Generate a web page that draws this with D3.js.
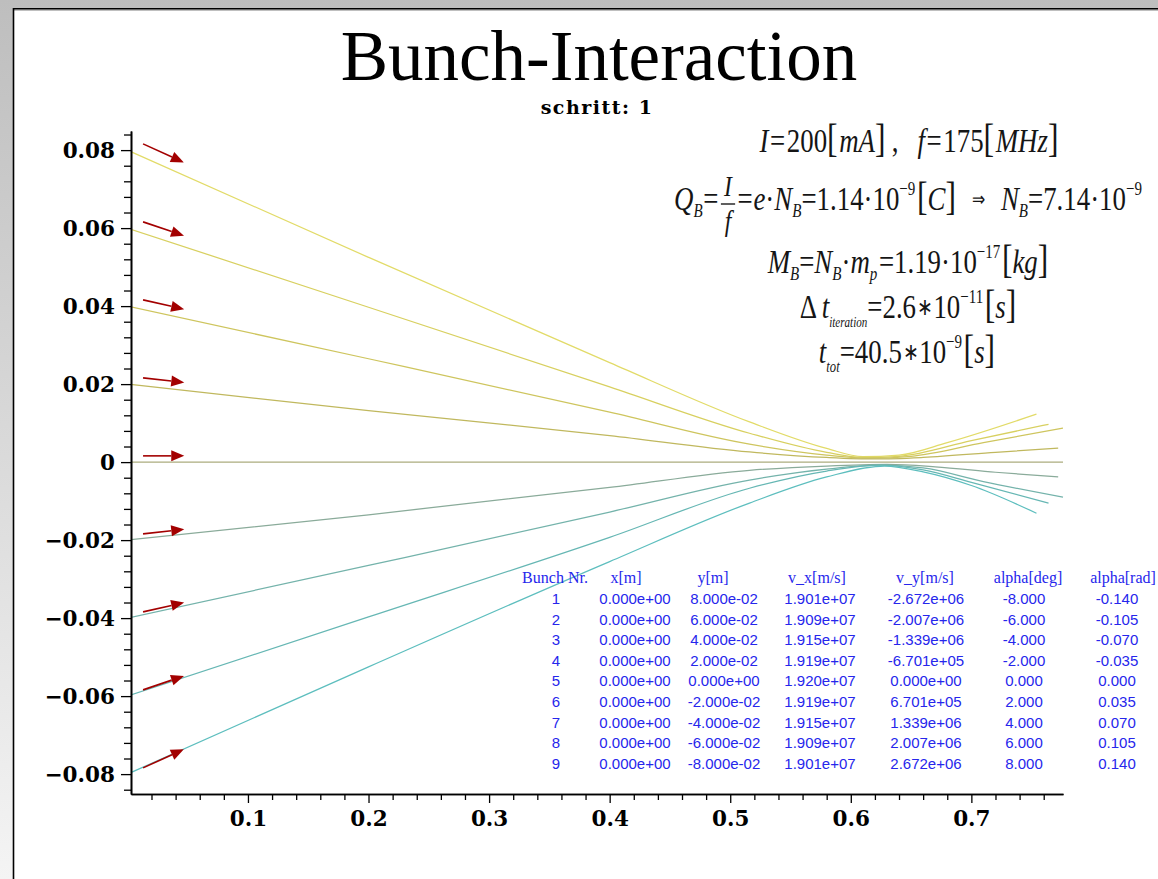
<!DOCTYPE html>
<html>
<head>
<meta charset="utf-8">
<script src="https://cdn.jsdelivr.net/npm/d3@7"></script>
<style>
  html, body { margin: 0; padding: 0; overflow: hidden; background: #fff; }
  svg { display: block; }
</style>
</head>
<body>
<svg id="chart" width="1158" height="879"></svg>
<script>
// ---- Initial state of the nine bunches ----
const bunchNr  = [1, 2, 3, 4, 5, 6, 7, 8, 9];
const xStart   = [0, 0, 0, 0, 0, 0, 0, 0, 0];
const yStart   = [0.08, 0.06, 0.04, 0.02, 0, -0.02, -0.04, -0.06, -0.08];
const vX       = [1.901e7, 1.909e7, 1.915e7, 1.919e7, 1.920e7, 1.919e7, 1.915e7, 1.909e7, 1.901e7];
const vY       = [-2.672e6, -2.007e6, -1.339e6, -6.701e5, 0, 6.701e5, 1.339e6, 2.007e6, 2.672e6];
const alphaDeg = [-8, -6, -4, -2, 0, 2, 4, 6, 8];
const alphaRad = [-0.140, -0.105, -0.070, -0.035, 0.000, 0.035, 0.070, 0.105, 0.140];

// ---- Trajectories [x, y] in metres ----
const track1 = [[0, 0.08], [0.2, 0.0525], [0.4, 0.0255], [0.516, 0.0103], [0.58, 0.0035], [0.61, 0.0014], [0.64, 0.0018], [0.68, 0.0050], [0.754, 0.0123]];
const track2 = [[0, 0.06], [0.2, 0.0397], [0.4, 0.0193], [0.516, 0.0074], [0.58, 0.0025], [0.61, 0.0012], [0.64, 0.0015], [0.70, 0.0055], [0.764, 0.0097]];
const track3 = [[0, 0.04], [0.2, 0.0265], [0.4, 0.0128], [0.516, 0.0046], [0.58, 0.0018], [0.615, 0.0010], [0.65, 0.0015], [0.71, 0.0050], [0.776, 0.0087]];
const track4 = [[0, 0.02], [0.2, 0.0132], [0.4, 0.0068], [0.516, 0.0026], [0.58, 0.0012], [0.62, 0.0008], [0.66, 0.0012], [0.72, 0.0025], [0.772, 0.0036]];
const track5 = [[0, 0], [0.776, 0]];
const track6 = [[0, -0.02], [0.2, -0.0135], [0.4, -0.0065], [0.516, -0.0021], [0.58, -0.0010], [0.63, -0.0006], [0.67, -0.0012], [0.72, -0.0026], [0.772, -0.0038]];
const track7 = [[0, -0.04], [0.2, -0.0265], [0.4, -0.0128], [0.516, -0.0046], [0.58, -0.0018], [0.625, -0.0008], [0.66, -0.0015], [0.71, -0.0050], [0.776, -0.0090]];
const track8 = [[0, -0.06], [0.2, -0.0397], [0.4, -0.0193], [0.516, -0.0067], [0.58, -0.0023], [0.625, -0.0008], [0.66, -0.0020], [0.70, -0.0052], [0.764, -0.0105]];
const track9 = [[0, -0.08], [0.2, -0.0525], [0.4, -0.0255], [0.516, -0.0105], [0.58, -0.0038], [0.628, -0.0010], [0.66, -0.0025], [0.70, -0.0060], [0.754, -0.0131]];
const tracks = [track1, track2, track3, track4, track5, track6, track7, track8, track9];

// ---- Axis ticks ----
const xMajorTicks = [0.1, 0.2, 0.3, 0.4, 0.5, 0.6, 0.7];
const yMajorTicks = [-0.08, -0.06, -0.04, -0.02, 0, 0.02, 0.04, 0.06, 0.08];

// ---- Texts ----
const titleText = "Bunch-Interaction";
const stepText = "schritt: 1";
const tableHeader = ["Bunch Nr.", "x[m]", "y[m]", "v_x[m/s]", "v_y[m/s]", "alpha[deg]", "alpha[rad]"];

// ---- Styles ----
const SERIF = "'Liberation Serif', 'Times New Roman', serif";
const WIDE_SERIF = "'DejaVu Serif', serif";
const SANS = "'Liberation Sans', Arial, sans-serif";
const lineColors = ["#e2db68", "#d8d060", "#cec55e", "#c0b85e", "#abac7e", "#8aab9a", "#74b3ab", "#66b7b4", "#5dbebe"];
const arrowColor = "#a30000";
const arrowTime = 1.78e-9;       // seconds of flight represented by an arrow
const arrowLift = 0.0016;         // arrows sit slightly above their track
const arrowX0 = 0.013;

const W = 1158, H = 879;
const svg = d3.select("#chart");

// Window frame
const defs = svg.append("defs");
const bg = defs.append("linearGradient").attr("id", "bgGrad").attr("x1", 0).attr("y1", 0).attr("x2", 0).attr("y2", 1);
bg.append("stop").attr("offset", "0%").attr("stop-color", "#bebebe");
bg.append("stop").attr("offset", "100%").attr("stop-color", "#f4f4f4");
svg.append("rect").attr("width", W).attr("height", H).attr("fill", "url(#bgGrad)");
svg.append("rect").attr("x", 14).attr("y", 10).attr("width", W - 14).attr("height", H - 10).attr("fill", "#fff");
svg.append("line").attr("x1", 13).attr("x2", W).attr("y1", 8.75).attr("y2", 8.75).attr("stroke", "#000").attr("stroke-width", 1.6);
svg.append("line").attr("x1", 14).attr("x2", W).attr("y1", 10.2).attr("y2", 10.2).attr("stroke", "#8a8a8a").attr("stroke-width", 0.8);
svg.append("line").attr("x1", 13.5).attr("x2", 13.5).attr("y1", 8).attr("y2", H).attr("stroke", "#000").attr("stroke-width", 1.6);

// Scales
const x = d3.scaleLinear().domain([0.003, 0.776]).range([131, 1063]);
const y = d3.scaleLinear().domain([-0.0851, 0.0849]).range([794, 131]);

// Title
svg.append("text").attr("x", 599).attr("y", 80).attr("text-anchor", "middle")
  .attr("font-family", SERIF).attr("font-size", 71).attr("fill", "#000").text(titleText);
svg.append("text").attr("x", 597).attr("y", 114).attr("text-anchor", "middle")
  .attr("font-family", WIDE_SERIF).attr("font-weight", "bold").attr("font-size", 19)
  .attr("letter-spacing", 1.5).attr("fill", "#000").text(stepText);

// Trajectories
defs.append("clipPath").attr("id", "plotClip").append("rect")
  .attr("x", 131).attr("y", 120).attr("width", 940).attr("height", 674);
const line = d3.line().x(d => x(d[0])).y(d => y(d[1])).curve(d3.curveMonotoneX);
svg.append("g").attr("clip-path", "url(#plotClip)")
  .selectAll("path").data(tracks).join("path")
  .attr("d", line).attr("fill", "none")
  .attr("stroke", (d, i) => lineColors[i]).attr("stroke-width", 1.25);

// Axes
const tickFont = g => g.selectAll("text")
  .attr("font-family", WIDE_SERIF).attr("font-weight", "bold").attr("font-size", 21.5)
  .attr("fill", "#000");
const axisStyle = g => {
  g.select(".domain").attr("stroke", "#000").attr("stroke-width", 1.6);
  g.selectAll(".tick line").attr("stroke", "#000").attr("stroke-width", 1.3);
};

const xMinor = d3.range(1, 39).map(i => +(i * 0.02).toFixed(2)).filter(v => !xMajorTicks.some(m => Math.abs(m - v) < 1e-9));
const yMinor = d3.range(-21, 22).map(i => +(i * 0.004).toFixed(3)).filter(v => !yMajorTicks.some(m => Math.abs(m - v) < 1e-9));

svg.append("g").attr("transform", "translate(0,794)")
  .call(d3.axisBottom(x).tickValues(xMinor).tickSize(6).tickSizeOuter(0).tickFormat(""))
  .call(axisStyle);
svg.append("g").attr("transform", "translate(0,794)")
  .call(d3.axisBottom(x).tickValues(xMajorTicks).tickSize(9).tickSizeOuter(0).tickPadding(8).tickFormat(d3.format(".1f")))
  .call(axisStyle).call(tickFont);

svg.append("g").attr("transform", "translate(131,0)")
  .call(d3.axisLeft(y).tickValues(yMinor).tickSize(7).tickSizeOuter(0).tickFormat(""))
  .call(axisStyle);
svg.append("g").attr("transform", "translate(131,0)")
  .call(d3.axisLeft(y).tickValues(yMajorTicks).tickSize(10).tickSizeOuter(0).tickPadding(6)
    .tickFormat(d => Math.abs(d) < 1e-9 ? "0" : d3.format(".2f")(d)))
  .call(axisStyle).call(tickFont);

// Initial velocity arrows
const arrows = svg.append("g");
bunchNr.forEach((n, i) => {
  const x0 = x(xStart[i] + arrowX0), y0 = y(yStart[i] + arrowLift);
  const x1 = x(xStart[i] + arrowX0 + vX[i] * arrowTime);
  const y1 = y(yStart[i] + arrowLift + vY[i] * arrowTime);
  const ang = Math.atan2(y1 - y0, x1 - x0);
  const headL = 13, headW = 5.5;
  const bx = x1 - headL * Math.cos(ang), by = y1 - headL * Math.sin(ang);
  arrows.append("line").attr("x1", x0).attr("y1", y0).attr("x2", bx).attr("y2", by)
    .attr("stroke", arrowColor).attr("stroke-width", 1.6);
  const px = -Math.sin(ang) * headW, py = Math.cos(ang) * headW;
  arrows.append("path")
    .attr("d", `M${x1},${y1}L${bx + px},${by + py}L${bx - px},${by - py}Z`)
    .attr("fill", arrowColor);
});

// Formula block
function mathLine(root, tokens, cx, baseline, sx) {
  const g = root.append("g");
  let cur = 0;
  for (const tk of tokens) {
    if (tk.frac) {
      const num = g.append("text").attr("y", -14).attr("font-style", "italic").attr("font-size", 30).text(tk.frac[0]);
      const den = g.append("text").attr("y", 21).attr("font-style", "italic").attr("font-size", 30).text(tk.frac[1]);
      const w = Math.max(num.node().getComputedTextLength(), den.node().getComputedTextLength()) + 12;
      num.attr("x", cur + w / 2).attr("text-anchor", "middle");
      den.attr("x", cur + w / 2).attr("text-anchor", "middle");
      g.append("line").attr("x1", cur + 2).attr("x2", cur + w - 2).attr("y1", -6).attr("y2", -6)
        .attr("stroke", "#1a1a1a").attr("stroke-width", 1.4);
      cur += w;
      continue;
    }
    const size = tk.size || (tk.sub || tk.sup ? 19 : 34);
    const dy = tk.dy !== undefined ? tk.dy : (tk.sub ? 7 : tk.sup ? -15 : 0);
    const t = g.append("text").attr("x", cur + (tk.pre || 0)).attr("y", dy)
      .attr("font-size", size).attr("font-style", tk.it ? "italic" : "normal").text(tk.t);
    cur += (tk.pre || 0) + t.node().getComputedTextLength() + (tk.post || 0);
  }
  g.attr("font-family", SERIF).attr("fill", "#151515")
    .attr("transform", `translate(${cx - cur * sx / 2},${baseline}) scale(${sx},1)`);
}

const formulas = svg.append("g");
const SX = 0.79;
mathLine(formulas, [
  {t: "I", it: 1}, {t: "=", pre: 2, post: 2}, {t: "200"}, {t: "[", size: 40, post: 2}, {t: "mA", it: 1}, {t: "]", size: 40},
  {t: ",", pre: 8, post: 24},
  {t: "f", it: 1}, {t: "=", pre: 2, post: 2}, {t: "175"}, {t: "[", size: 40, post: 2}, {t: "MHz", it: 1}, {t: "]", size: 40}
], 909, 152, SX);
mathLine(formulas, [
  {t: "Q", it: 1}, {t: "B", it: 1, sub: 1}, {t: "=", pre: 1, post: 1}, {frac: ["I", "f"]}, {t: "=", pre: 1, post: 1},
  {t: "e", it: 1}, {t: "·"}, {t: "N", it: 1}, {t: "B", it: 1, sub: 1}, {t: "="}, {t: "1.14·10"}, {t: "−9", sup: 1},
  {t: "[", size: 40, pre: 2}, {t: "C", it: 1}, {t: "]", size: 40},
  {t: "⇒", size: 20, dy: -4, pre: 20, post: 20},
  {t: "N", it: 1}, {t: "B", it: 1, sub: 1}, {t: "="}, {t: "7.14·10"}, {t: "−9", sup: 1}
], 908, 210, SX);
mathLine(formulas, [
  {t: "M", it: 1}, {t: "B", it: 1, sub: 1}, {t: "="}, {t: "N", it: 1}, {t: "B", it: 1, sub: 1}, {t: "·"},
  {t: "m", it: 1}, {t: "p", it: 1, sub: 1}, {t: "=", pre: 2}, {t: "1.19·10"}, {t: "−17", sup: 1},
  {t: "[", size: 40, pre: 2}, {t: "kg", it: 1}, {t: "]", size: 40}
], 908, 273, SX);
mathLine(formulas, [
  {t: "Δ", post: 6}, {t: "t", it: 1}, {t: "iteration", it: 1, sub: 1, size: 14, dy: 9}, {t: "="},
  {t: "2.6"}, {t: "∗", size: 24, dy: -3, pre: 1, post: 1}, {t: "10"}, {t: "−11", sup: 1},
  {t: "[", size: 40, pre: 2}, {t: "s", it: 1}, {t: "]", size: 40}
], 908, 318, SX);
mathLine(formulas, [
  {t: "t", it: 1}, {t: "tot", it: 1, sub: 1, size: 16, dy: 9}, {t: "="},
  {t: "40.5"}, {t: "∗", size: 24, dy: -3, pre: 1, post: 1}, {t: "10"}, {t: "−9", sup: 1},
  {t: "[", size: 40, pre: 2}, {t: "s", it: 1}, {t: "]", size: 40}
], 907, 363, SX);

// Table of initial values
const fmtE = v => {
  const [m, e] = v.toExponential(3).split("e");
  const n = parseInt(e, 10);
  return `${m}e${n < 0 ? "-" : "+"}${String(Math.abs(n)).padStart(2, "0")}`;
};
const fmtF = v => (Math.abs(v) < 1e-12 ? 0 : v).toFixed(3);
const headCols = [555, 626, 713, 817, 925, 1028, 1123];
const rowCols = [556, 635, 724, 820, 926, 1024, 1117];
const table = svg.append("g").attr("fill", "#2626ec");
table.selectAll("text.head").data(tableHeader).join("text").attr("class", "head")
  .attr("x", (d, i) => headCols[i]).attr("y", 583).attr("text-anchor", "middle")
  .attr("font-family", SERIF).attr("font-size", 16).text(d => d);
const rowBase = 604, rowStep = 20.6;
bunchNr.forEach((n, i) => {
  const cells = [String(n), fmtE(xStart[i]), fmtE(yStart[i]), fmtE(vX[i]), fmtE(vY[i]), fmtF(alphaDeg[i]), fmtF(alphaRad[i])];
  table.append("g").selectAll("text").data(cells).join("text")
    .attr("x", (d, j) => rowCols[j]).attr("y", rowBase + i * rowStep).attr("text-anchor", "middle")
    .attr("font-family", SANS).attr("font-size", 15).text(d => d);
});
</script>
</body>
</html>
